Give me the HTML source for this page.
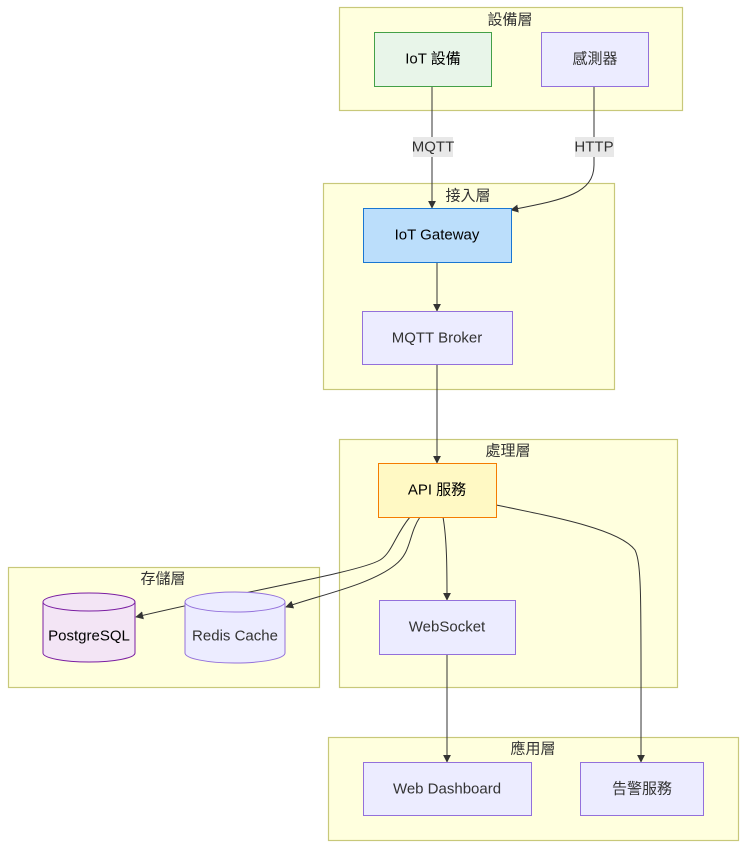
<!DOCTYPE html>
<html><head><meta charset="utf-8"><style>html,body{margin:0;padding:0;background:#fff}svg{display:block}text{font-family:"Liberation Sans","Noto Sans CJK TC",sans-serif;font-size:15px;fill:#333;text-anchor:middle;dominant-baseline:central}</style></head><body>
<svg width="754" height="858" viewBox="0 0 754 858" xmlns="http://www.w3.org/2000/svg">
<defs><marker id="a" viewBox="0 0 10 10" refX="9" refY="5" markerWidth="8" markerHeight="8" orient="auto"><path d="M0,0L10,5L0,10z" fill="#333"/></marker></defs>
<g fill="#ffffde" stroke="#c8c87a" stroke-width="1.2">
<rect x="339.5" y="7.5" width="343" height="103"/>
<rect x="323.5" y="183.5" width="291" height="206"/>
<rect x="339.5" y="439.5" width="338" height="248"/>
<rect x="8.5" y="567.5" width="311" height="120"/>
<rect x="328.5" y="737.5" width="410" height="103"/>
</g>
<text x="510" y="20">設備層</text><text x="468" y="196">接入層</text><text x="508" y="451">處理層</text><text x="163" y="579">存儲層</text><text x="533" y="749">應用層</text>
<g fill="none" stroke="#333" stroke-width="1" marker-end="url(#a)">
<path d="M432,86V208"/>
<path d="M594,86V165C594,195 560,200 511,210"/>
<path d="M437,262V311"/>
<path d="M437,364V463"/>
<path d="M410,517C395,535 392,553 380,560C360,572 250,590 136,617"/>
<path d="M420,517C408,535 412,552 395,565C370,585 320,595 286,607"/>
<path d="M443,517C447,540 447,570 447,600"/>
<path d="M496,505C560,518 620,530 635,550C642,565 641,600 641,762"/>
<path d="M447,654V762"/>
</g>
<rect x="413" y="137" width="40" height="20" fill="#e8e8e8"/><text x="433" y="147">MQTT</text>
<rect x="575" y="137" width="39" height="20" fill="#e8e8e8"/><text x="594" y="147">HTTP</text>
<rect x="374.5" y="32.5" width="117" height="54" fill="#e8f5e9" stroke="#43a047"/><text x="433" y="59" style="fill:#000">IoT 設備</text>
<rect x="541.5" y="32.5" width="107" height="54" fill="#ececff" stroke="#9370db"/><text x="595" y="59">感測器</text>
<rect x="363.5" y="208.5" width="148" height="54" fill="#bbdefb" stroke="#1976d2"/><text x="437" y="235" style="fill:#000">IoT Gateway</text>
<rect x="362.5" y="311.5" width="150" height="53" fill="#ececff" stroke="#9370db"/><text x="437" y="338">MQTT Broker</text>
<rect x="378.5" y="463.5" width="118" height="54" fill="#fff9c4" stroke="#f57c00"/><text x="437" y="490" style="fill:#000">API 服務</text>
<rect x="379.5" y="600.5" width="136" height="54" fill="#ececff" stroke="#9370db"/><text x="447" y="627">WebSocket</text>
<rect x="363.5" y="762.5" width="168" height="53" fill="#ececff" stroke="#9370db"/><text x="447" y="789">Web Dashboard</text>
<rect x="580.5" y="762.5" width="123" height="53" fill="#ececff" stroke="#9370db"/><text x="642" y="789">告警服務</text>
<path d="M43,602A46,9 0 0 1 135,602V653A46,9 0 0 1 43,653Z" fill="#f3e5f5" stroke="#7b1fa2"/>
<path d="M43,602A46,9 0 0 0 135,602" fill="none" stroke="#7b1fa2"/>
<text x="89" y="636" style="fill:#000">PostgreSQL</text>
<path d="M185,602A50,10 0 0 1 285,602V653A50,10 0 0 1 185,653Z" fill="#ececff" stroke="#9370db"/>
<path d="M185,602A50,10 0 0 0 285,602" fill="none" stroke="#9370db"/>
<text x="235" y="636">Redis Cache</text>
</svg>
</body></html>
